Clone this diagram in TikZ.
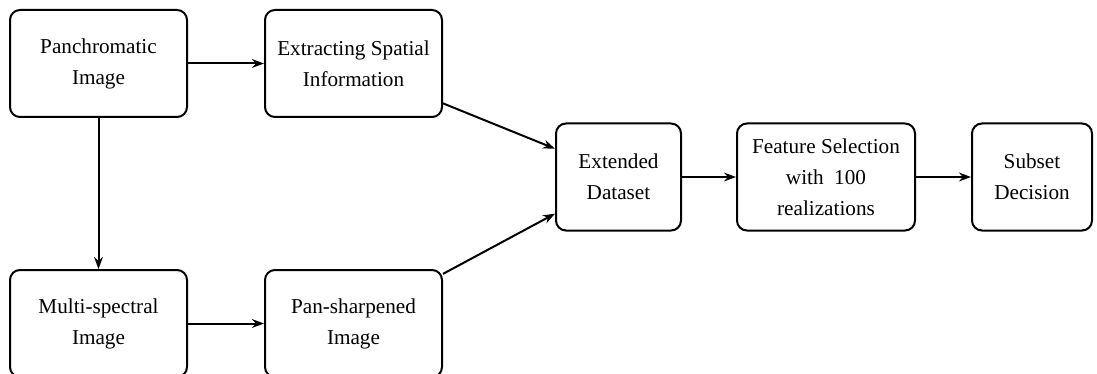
\documentclass[tikz,border=0pt]{standalone}
\usepackage{fontspec}
\setmainfont{Liberation Serif}
\usetikzlibrary{arrows.meta}

\begin{document}
\begin{tikzpicture}[x=0.5pt, y=-0.5pt,
        block/.style={draw, line width=1pt, rounded corners=5pt, align=center,
            minimum width=88.5pt, minimum height=53.5pt,
            font=\fontsize{10.6}{15.5}\selectfont},
        arrow/.style={line width=1pt, -{Stealth[length=6pt, width=4.4pt]}}]
        \useasboundingbox (0,0) rectangle (1097,374);
        \node[block] (pan) at (98.5,63.5) {Panchromatic\\Image};
        \node[block] (spatial) at (353.5,63.5) {Extracting Spatial\\Information};
        \node[block] (multi) at (98.5,323.5) {Multi-spectral\\Image};
        \node[block] (sharp) at (353.5,323.5) {Pan-sharpened\\Image};
        \node[block, minimum width=62.5pt] (ext) at (618.5,177) {Extended\\Dataset};
        \node[block, minimum width=89pt] (feat) at (826,177) {Feature Selection\\with~~100\\realizations};
        \node[block, minimum width=60pt] (subset) at (1032,177) {Subset\\Decision};
        \draw[arrow] (pan) -- (spatial);
        \draw[arrow] (pan) -- (multi);
        \draw[arrow] (multi) -- (sharp);
        \draw[arrow] (spatial.-24) -- (ext.156);
        \draw[arrow] (sharp.29) -- (ext.210);
        \draw[arrow] (ext) -- (feat);
        \draw[arrow] (feat) -- (subset);
    \end{tikzpicture}
\end{document}
